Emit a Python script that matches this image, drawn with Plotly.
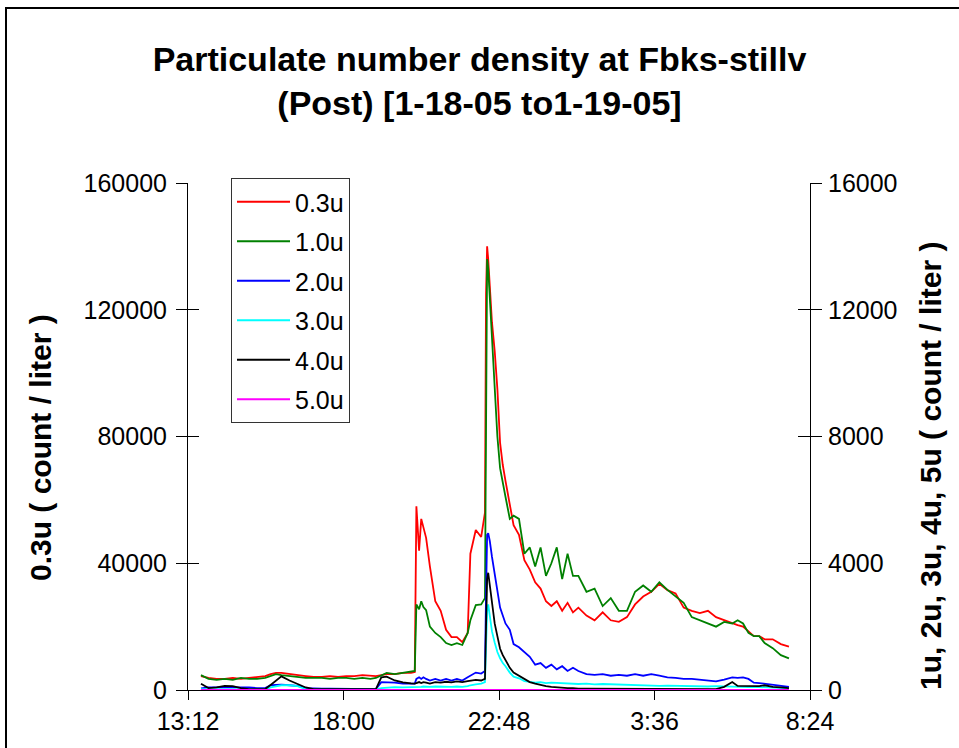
import plotly.graph_objects as go

# Clock times of the samples (Jan 18 afternoon -> Jan 19 morning)
times = [
    "13:36", "13:50", "14:05", "14:20", "14:35", "14:50", "15:05", "15:20", "15:35", "15:45",
    "15:55", "16:05", "16:20", "16:35", "16:50", "17:05", "17:20", "17:35", "17:50", "18:05",
    "18:20", "18:35", "18:50", "19:00", "19:10", "19:20", "19:35", "19:50", "20:05", "20:12",
    "20:15", "20:20", "20:24", "20:28", "20:33", "20:40", "20:50", "21:00", "21:10", "21:20",
    "21:30", "21:40", "21:50", "21:55", "22:05", "22:15", "22:22", "22:24", "22:26", "22:28",
    "22:31", "22:35", "22:40", "22:45", "22:50", "22:55", "23:00", "23:08", "23:15", "23:25",
    "23:35", "23:45", "23:55", "0:05", "0:15", "0:25", "0:35", "0:45", "0:55", "1:05",
    "1:15", "1:30", "1:45", "2:00", "2:15", "2:30", "2:45", "3:00", "3:15", "3:30",
    "3:45", "4:00", "4:15", "4:30", "4:45", "5:00", "5:15", "5:30", "5:45", "6:00",
    "6:10", "6:20", "6:30", "6:40", "6:50", "7:00", "7:15", "7:30", "7:45",
]

# 0.3u (left axis, count / liter)
p03 = [
    4400, 3800, 3500, 3500, 3800, 3500, 3800, 4100, 4400, 5000,
    5400, 5400, 5000, 4700, 4400, 4100, 4100, 4400, 4100, 4400,
    4400, 4700, 4400, 4400, 4700, 5000, 5000, 5400, 5400, 5700,
    58000, 44000, 54000, 51000, 48000, 39000, 28000, 25000, 19000, 16700,
    16700, 15100, 18000, 43000, 50500, 48300, 56000, 125000, 140000, 136000,
    128000, 116000, 107000, 95000, 78000, 71000, 66000, 58000, 52000, 49000,
    41000, 38000, 34000, 32000, 28000, 26500, 28000, 25000, 27500, 24500,
    26000, 23500, 22000, 24500, 22000, 21500, 23000, 27000, 29500, 31000,
    33500, 31500, 30500, 26000, 25000, 24300, 25000, 23000, 22000, 21000,
    20500, 20000, 18500, 17000, 17000, 16000, 16000, 14500, 13700,
]

# 1.0u (right axis)
p10 = [
    470, 350, 320, 350, 320, 380, 350, 350, 380, 440,
    500, 470, 440, 410, 380, 380, 380, 350, 380, 380,
    350, 380, 350, 380, 470, 540, 500, 540, 570, 600,
    2700, 2550, 2800, 2620, 2520, 2000, 1800, 1670, 1480, 1420,
    1480, 1420, 1800, 2200, 2680, 2700, 2900, 11000, 13600, 13300,
    12400, 11000, 9900, 8000, 7000, 6500, 6100, 5400, 5500, 5400,
    4300, 4500, 3900, 4500, 3600, 4000, 4500, 3500, 4300, 3600,
    3600, 3100, 3200, 2650, 2900, 2500, 2500, 3100, 3300, 3100,
    3400, 3160, 2940, 2750, 2300, 2200, 2100, 2000, 2150, 2100,
    2200, 2100, 1800, 1700, 1700, 1480, 1320, 1100, 1000,
]

# 2.0u (right axis)
p20 = [
    50, 80, 80, 80, 90, 80, 80, 60, 60, 150,
    160, 170, 150, 130, 60, 40, 40, 40, 40, 40,
    40, 40, 30, 30, 250, 250, 230, 200, 200, 200,
    350, 400, 350, 400, 350, 300, 350, 300, 350, 300,
    350, 300, 400, 450, 550, 520, 600, 3000, 4900, 4950,
    4700, 4200, 3700, 3100, 2600, 2350, 2100, 1900, 1450, 1350,
    1200, 1050, 800, 850, 700, 800, 650, 750, 600, 700,
    600, 500, 480, 500, 450, 480, 450, 500, 450, 500,
    450, 400, 380, 350, 350, 320, 280, 270, 330, 400,
    380, 400, 350, 230, 220, 200, 180, 150, 100,
]

# 3.0u (right axis)
p30 = [
    30, 30, 30, 40, 40, 30, 20, 20, 20, 80,
    120, 150, 150, 120, 30, 10, 10, 10, 10, 10,
    10, 10, 10, 10, 60, 80, 90, 80, 80, 80,
    100, 100, 100, 110, 100, 100, 110, 100, 110, 100,
    110, 100, 120, 150, 180, 200, 250, 1500, 2500, 2700,
    2300, 1850, 1500, 1200, 1000, 850, 750, 550, 420, 370,
    280, 250, 230, 250, 220, 230, 220, 200, 210, 200,
    190, 200, 180, 190, 180, 170, 180, 150, 140, 150,
    130, 140, 130, 120, 130, 120, 110, 120, 110, 100,
    110, 100, 90, 100, 90, 80, 70, 60, 50,
]

# 4.0u (right axis)
p40 = [
    200, 60, 80, 130, 120, 60, 30, 30, 30, 160,
    300, 430, 300, 180, 80, 30, 30, 30, 30, 30,
    30, 30, 30, 30, 400, 420, 300, 240, 210, 200,
    220, 250, 220, 250, 230, 200, 250, 230, 260, 240,
    270, 250, 280, 300, 320, 300, 350, 2000, 3500, 3700,
    3300, 2700, 2100, 1700, 1300, 1100, 950, 700, 550, 450,
    350, 250, 200, 150, 120, 100, 80, 70, 60, 60,
    40, 40, 40, 30, 30, 30, 30, 30, 30, 30,
    30, 30, 30, 30, 30, 30, 30, 30, 100, 250,
    130, 130, 130, 130, 120, 150, 100, 80, 60,
]

# 5.0u (right axis)
p50 = [
    0, 0, 0, 0, 0, 0, 0, 0, 0, 0,
    0, 0, 0, 0, 0, 0, 0, 0, 0, 0,
    0, 0, 0, 0, 0, 0, 0, 0, 0, 0,
    0, 0, 0, 0, 0, 0, 0, 0, 0, 0,
    0, 0, 0, 0, 0, 0, 0, 0, 0, 0,
    0, 0, 0, 0, 0, 0, 0, 0, 0, 0,
    0, 0, 0, 0, 0, 0, 0, 0, 0, 0,
    0, 0, 0, 0, 0, 0, 0, 0, 0, 0,
    0, 0, 0, 0, 0, 0, 0, 0, 0, 0,
    0, 0, 0, 0, 0, 0, 0, 0, 0,
]

series_names = ["0.3u", "1.0u", "2.0u", "3.0u", "4.0u", "5.0u"]
series_colors = ["#FF0000", "#008000", "#0000FF", "#00FFFF", "#000000", "#FF00FF"]
series_values = [p03, p10, p20, p30, p40, p50]

x_tick_labels = ["13:12", "18:00", "22:48", "3:36", "8:24"]
x_tick_times = ["2005-01-18 13:12", "2005-01-18 18:00", "2005-01-18 22:48",
                "2005-01-19 03:36", "2005-01-19 08:24"]
left_ticks = [0, 40000, 80000, 120000, 160000]
right_ticks = [0, 4000, 8000, 12000, 16000]

left_title = "0.3u ( count / liter )"
right_title = "1u, 2u, 3u, 4u, 5u ( count / liter )"


def to_stamp(t):
    h, m = t.split(":")
    day = "2005-01-18" if int(h) >= 12 else "2005-01-19"
    return f"{day} {int(h):02d}:{m}"


xs = [to_stamp(t) for t in times]

FONT = "Liberation Sans, Arial, sans-serif"

fig = go.Figure()
for i, (name, color, vals) in enumerate(zip(series_names, series_colors, series_values)):
    fig.add_trace(go.Scatter(
        x=xs, y=vals, name=name, mode="lines",
        line=dict(color=color, width=1.8),
        yaxis="y" if i == 0 else "y2",
        legendgroup=name,
    ))

# invisible helpers so the inner-tick overlay axes are drawn
fig.add_trace(go.Scatter(x=[xs[0]], y=[0], yaxis="y3", mode="lines",
                         showlegend=False, hoverinfo="skip", line=dict(width=0)))
fig.add_trace(go.Scatter(x=[xs[0]], y=[0], yaxis="y4", mode="lines",
                         showlegend=False, hoverinfo="skip", line=dict(width=0)))

tickfont = dict(family=FONT, size=25, color="black")
titlefont = dict(family=FONT, size=30, color="black", weight="bold")

# plot area in pixels: x 188..810, y 183..690
PL, PR, PT, PB = 188, 810, 183, 690


def px_x(p):
    return (p - PL) / (PR - PL)


def px_y(p):
    return (PB - p) / (PB - PT)


fig.update_layout(
    width=959, height=748,
    margin=dict(l=PL, r=959 - PR, t=PT, b=748 - PB),
    paper_bgcolor="white", plot_bgcolor="white",
    title=dict(
        text="Particulate number density at Fbks-stillv<br>(Post) [1-18-05 to1-19-05]",
        font=dict(family=FONT, size=34, color="black", weight="bold"),
        x=0.5, xref="container", xanchor="center",
        y=1 - 71 / 748, yref="container", yanchor="middle",
    ),
    xaxis=dict(
        type="date",
        range=[x_tick_times[0], x_tick_times[-1]],
        tickvals=x_tick_times, ticktext=x_tick_labels,
        ticks="outside", ticklen=9, tickcolor="black", tickwidth=1,
        showline=True, linecolor="black", linewidth=1,
        showgrid=False, zeroline=False,
        tickfont=tickfont,
    ),
    yaxis=dict(
        range=[0, 160000], tickvals=left_ticks,
        ticktext=[str(v) for v in left_ticks],
        ticks="outside", ticklen=11, tickcolor="black", tickwidth=1,
        showline=True, linecolor="black", linewidth=1,
        showgrid=False, zeroline=False,
        tickfont=tickfont, ticklabelstandoff=4,
    ),
    yaxis2=dict(
        range=[0, 16000], tickvals=right_ticks,
        ticktext=[str(v) for v in right_ticks],
        overlaying="y", side="right", anchor="x",
        ticks="outside", ticklen=11, tickcolor="black", tickwidth=1,
        showline=True, linecolor="black", linewidth=1,
        showgrid=False, zeroline=False,
        tickfont=tickfont, ticklabelstandoff=1,
    ),
    yaxis3=dict(
        range=[0, 160000], tickvals=left_ticks, overlaying="y", side="left", anchor="x",
        ticks="inside", ticklen=11, tickcolor="black", tickwidth=1,
        showticklabels=False, showline=False, showgrid=False, zeroline=False,
    ),
    yaxis4=dict(
        range=[0, 16000], tickvals=right_ticks, overlaying="y", side="right", anchor="x",
        ticks="inside", ticklen=12, tickcolor="black", tickwidth=1,
        showticklabels=False, showline=False, showgrid=False, zeroline=False,
    ),
    legend=dict(
        x=px_x(231), y=px_y(178), xanchor="left", yanchor="top",
        xref="paper", yref="paper",
        bordercolor="#333333", borderwidth=1, bgcolor="white",
        font=dict(family=FONT, size=25, color="black"),
        traceorder="grouped", tracegroupgap=4, itemwidth=53,
    ),
    annotations=[
        dict(text=left_title, textangle=-90, font=titlefont, showarrow=False,
             xref="paper", yref="paper", x=px_x(40), y=px_y(448),
             xanchor="center", yanchor="middle"),
        dict(text=right_title, textangle=-90, font=titlefont, showarrow=False,
             xref="paper", yref="paper", x=px_x(930), y=px_y(466),
             xanchor="center", yanchor="middle"),
    ],
    shapes=[dict(
        type="rect", xref="paper", yref="paper",
        x0=px_x(6), x1=px_x(966), y0=px_y(760), y1=px_y(8),
        line=dict(color="black", width=2), fillcolor="rgba(0,0,0,0)", layer="below",
    )],
    showlegend=True,
)

fig.write_html(
    "out.html",
    config={"displayModeBar": False},
    post_script="document.body.style.margin='0';document.body.style.overflow='hidden';",
)
